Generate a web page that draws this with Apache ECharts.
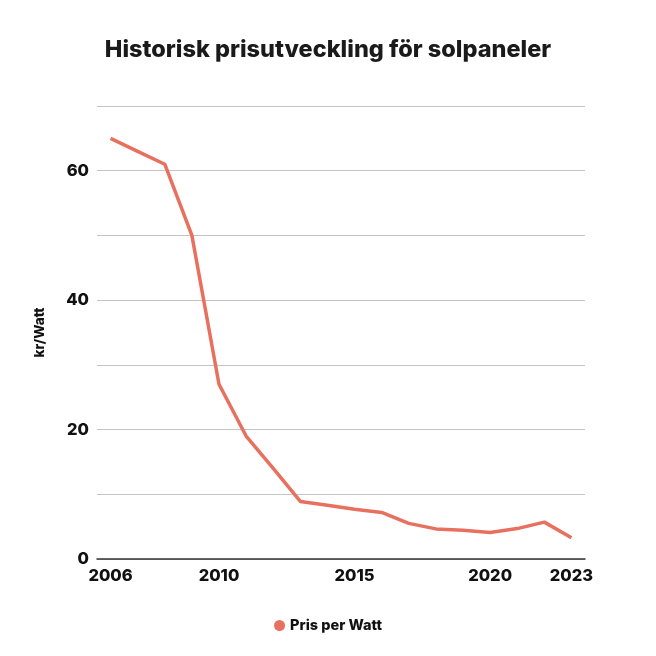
<!DOCTYPE html>
<html>
<head>
<meta charset="utf-8">
<style>html,body{margin:0;padding:0;background:#fff;}#c{width:656px;height:656px;}</style>
<script src="https://cdn.jsdelivr.net/npm/echarts@6/dist/echarts.min.js"></script>
</head>
<body>
<div id="c"></div>
<script>
var years = ['2006','2007','2008','2009','2010','2011','2012','2013','2014','2015','2016','2017','2018','2019','2020','2021','2022','2023'];
var prices = [65, 63, 61, 50, 27, 19, 14, 8.9, 8.3, 7.7, 7.2, 5.5, 4.65, 4.45, 4.1, 4.7, 5.7, 3.3];
var shownYearLabels = ['2006','2010','2015','2020','2023'];
var yLabels = [0, 20, 40, 60];
var seriesName = 'Pris per Watt';
var titleText = 'Historisk prisutveckling för solpaneler';
var yName = 'kr/Watt';

var font = 'Inter, "Noto Sans", sans-serif';
var chart = echarts.init(document.getElementById('c'));
chart.setOption({
  animation: false,
  title: {
    text: titleText, left: 'center', top: 33,
    textStyle: {fontFamily: font, fontSize: 23.5, fontWeight: 800, color: '#1a1a1a'}
  },
  legend: {
    bottom: 18, left: 'center', icon: 'circle', itemWidth: 11, itemHeight: 11, itemGap: 12,
    textStyle: {fontFamily: font, fontSize: 14.5, fontWeight: 800, color: '#111'},
    data: [seriesName]
  },
  grid: {left: 97, right: 71, top: 106, bottom: 97, containLabel: false},
  xAxis: {
    type: 'category', data: years, boundaryGap: true,
    axisLine: {lineStyle: {color: '#333', width: 1.5}},
    axisTick: {show: false},
    axisLabel: {
      interval: function (i, v) { return shownYearLabels.indexOf(v) >= 0; },
      fontFamily: font, fontSize: 16.5, fontWeight: 800, color: '#111', margin: 9
    },
    splitLine: {show: false}
  },
  yAxis: {
    type: 'value', min: 0, max: 70, interval: 10,
    name: yName, nameLocation: 'middle', nameGap: 50, nameRotate: 90,
    nameTextStyle: {fontFamily: font, fontSize: 13.5, fontWeight: 800, color: '#111'},
    axisLine: {show: false}, axisTick: {show: false},
    axisLabel: {
      formatter: function (v) { return yLabels.indexOf(v) >= 0 ? String(v) : ''; },
      fontFamily: font, fontSize: 16.5, fontWeight: 800, color: '#111', margin: 8
    },
    splitLine: {lineStyle: {color: '#c4c4c4', width: 1}}
  },
  series: [{
    name: seriesName, type: 'line', data: prices,
    showSymbol: false, symbol: 'circle',
    lineStyle: {color: '#E8705F', width: 3.5},
    itemStyle: {color: '#E8705F'}
  }]
});
</script>
</body>
</html>
